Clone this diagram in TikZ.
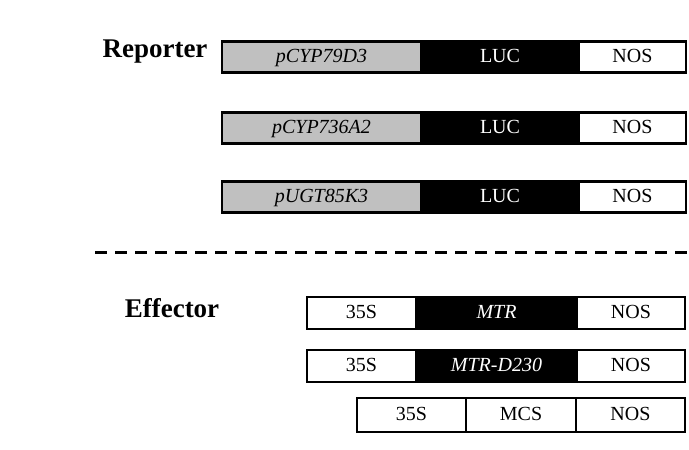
\documentclass[tikz,border=0pt]{standalone}
\usepackage{fontspec}
\setmainfont{Liberation Serif}
\usetikzlibrary{positioning}
\definecolor{promGray}{HTML}{C0C0C0}
\tikzset{
  seg/.style={draw, line width=2.5pt, minimum height=31pt, inner sep=0pt,
              outer sep=0pt, text height=12pt, text depth=2pt,
              font=\fontsize{20}{20}\selectfont},
  promseg/.style={seg, fill=promGray, font=\fontsize{20}{20}\selectfont\itshape},
  cdsseg/.style={seg, fill=black, text=white},
  termseg/.style={seg, fill=white},
  headlabel/.style={font=\fontsize{27}{27}\selectfont\bfseries},
}
\begin{document}
\begin{tikzpicture}[x=1pt, y=-1pt]
\useasboundingbox (0,0) rectangle (689,450);

%% Reporter constructs
\node[headlabel] (rep) at (155,52) {Reporter};
\foreach \y/\p [count=\i] in {57/pCYP79D3, 128/pCYP736A2, 197/pUGT85K3} {
  \node[promseg, minimum width=199pt, anchor=west] (rp\i) at (222,\y) {\p};
  \node[cdsseg, minimum width=158pt, right=0pt of rp\i] (rl\i) {LUC};
  \node[termseg, minimum width=107pt, right=0pt of rl\i] (rn\i) {NOS};
}

%% Separator
\coordinate (sepL) at (95,252);
\coordinate (sepR) at (687,252);
\draw[line width=3pt, dash pattern=on 12pt off 8pt] (sepL) -- (sepR);

%% Effector constructs
\node[headlabel] (eff) at (172,308) {Effector};
\foreach \y/\g [count=\i] in {313/MTR, 366/MTR-D230} {
  \node[termseg, minimum width=109pt, minimum height=32pt, anchor=west] (es\i) at (307,\y) {35S};
  \node[cdsseg, minimum width=161pt, minimum height=32pt, right=0pt of es\i] (eg\i) {\itshape\g};
  \node[termseg, minimum width=108pt, minimum height=32pt, right=0pt of eg\i] (en\i) {NOS};
}
\node[termseg, minimum width=109pt, minimum height=34pt, anchor=west] (es3) at (357,415) {35S};
\node[termseg, minimum width=110pt, minimum height=34pt, right=0pt of es3] (em3) {MCS};
\node[termseg, minimum width=109pt, minimum height=34pt, right=0pt of em3] (en3) {NOS};
\end{tikzpicture}
\end{document}
